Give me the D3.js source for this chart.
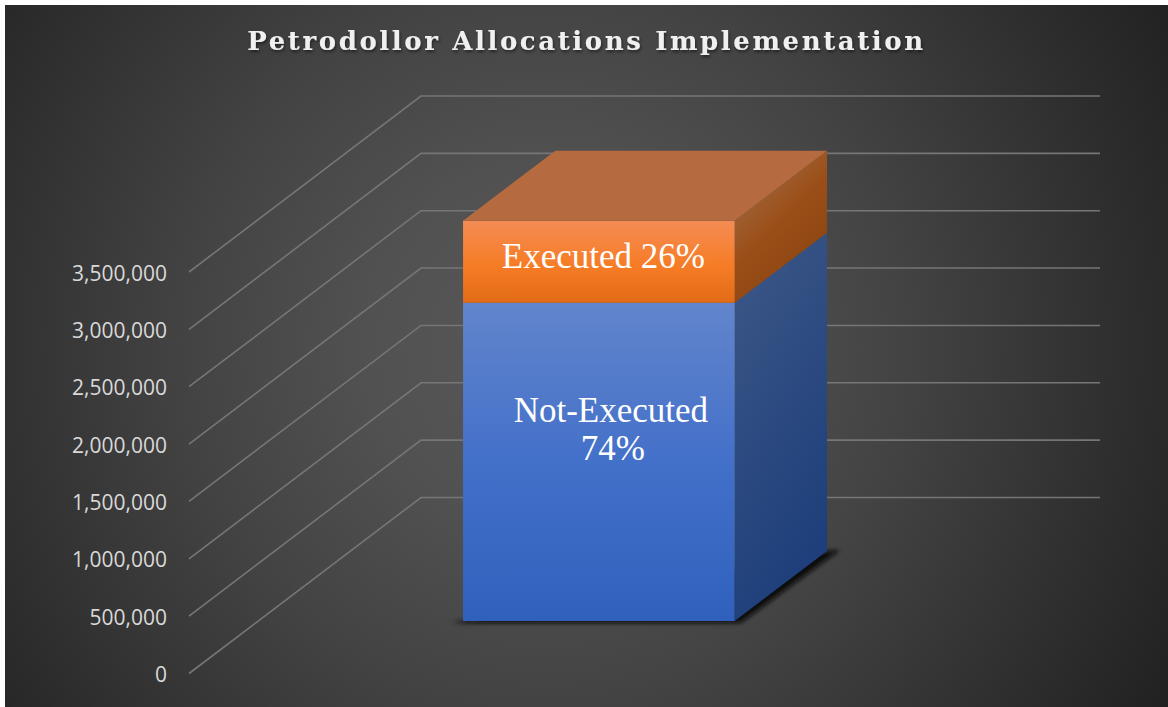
<!DOCTYPE html>
<html><head><meta charset="utf-8">
<script src="https://cdnjs.cloudflare.com/ajax/libs/d3/7.8.5/d3.min.js"></script>
<style>html,body{margin:0;padding:0;background:#fff;overflow:hidden}svg{display:block}</style>
</head><body><svg id="c" width="1168" height="707"></svg>
<script>
const titleText = "Petrodollor Allocations Implementation";
const categories = ["Allocations"];
const seriesNames = ["Not-Executed", "Executed"];
const seriesValues = [2775000, 715000];
const seriesLabels = [["Not-Executed", "74%"], ["Executed 26%"]];
const tickValues = [0, 500000, 1000000, 1500000, 2000000, 2500000, 3000000, 3500000];

const svg = d3.select("#c");
const defs = svg.append("defs");

// scales: value -> height, category -> front-plane x, depth -> oblique offset
const y = d3.scaleLinear().domain([0, 3500000]).range([673.5, 272]);
const x = d3.scaleBand().domain(categories).range([189, 868]).paddingInner(0).paddingOuter(0.75).align(0.503);
const depthX = d3.scaleLinear().domain([0, 1]).range([0, 232]);
const depthY = d3.scaleLinear().domain([0, 1]).range([0, -176]);
const P = (xv, val, d) => [xv + depthX(d), y(val) + depthY(d)];
const line = d3.line();

function lin(id, stops, x1 = 0, y1 = 0, x2 = 0, y2 = 1) {
  const g = defs.append("linearGradient").attr("id", id)
    .attr("x1", x1).attr("y1", y1).attr("x2", x2).attr("y2", y2);
  stops.forEach(([o, c]) => g.append("stop").attr("offset", o).attr("stop-color", c));
}
const bg = defs.append("radialGradient").attr("id", "bg").attr("gradientUnits", "userSpaceOnUse")
  .attr("cx", 545).attr("cy", 345).attr("r", 720);
[[0, "#585858"], [0.25, "#515151"], [0.5, "#434343"], [0.82, "#2d2d2d"], [1, "#212121"]].forEach(([o, c]) =>
  bg.append("stop").attr("offset", o).attr("stop-color", c));
lin("fBlue", [[0, "#6285cc"], [0.5, "#4370c9"], [1, "#2f61bc"]]);
lin("fOrange", [[0, "#f58c54"], [0.55, "#f67c26"], [1, "#e26b16"]]);
lin("sBlue", [[0, "#3e5887"], [1, "#1e3f7b"]], 0, 0, 0.35, 1);
lin("sOrange", [[0, "#a0683f"], [0.2, "#a0683f"], [0.55, "#9b4f18"], [1, "#8a430e"]], 0, 0, 0.6, 1);
defs.append("filter").attr("id", "blur").attr("x", "-10%").attr("y", "-10%").attr("width", "120%").attr("height", "120%")
  .append("feGaussianBlur").attr("stdDeviation", 2.2);
const ts = defs.append("filter").attr("id", "ts");
ts.append("feDropShadow").attr("dx", 1).attr("dy", 2).attr("stdDeviation", 1.5)
  .attr("flood-color", "#000").attr("flood-opacity", 0.5);

svg.append("rect").attr("x", 5).attr("y", 5).attr("width", 1163).attr("height", 702).attr("fill", "url(#bg)");

// title
svg.append("text").attr("x", 586.5).attr("y", 50).attr("text-anchor", "middle")
  .attr("font-family", "'DejaVu Serif',serif").attr("font-weight", 700).attr("font-size", 26)
  .attr("letter-spacing", 2.6).attr("fill", "#f0f0f0").attr("filter", "url(#ts)").text(titleText);

// oblique gridlines
const grid = svg.append("g").attr("fill", "none").attr("stroke", "#767676").attr("stroke-width", 1.6);
tickValues.forEach(t => {
  grid.append("path").attr("d", line([P(x.range()[0], t, 0), P(x.range()[0], t, 1), P(x.range()[1], t, 1)]));
});

// tick labels
svg.append("g").selectAll("text").data(tickValues).join("text")
  .attr("x", 167).attr("y", d => y(d) + 8.5).attr("text-anchor", "end")
  .attr("font-family", "'Open Sans',sans-serif").attr("font-size", 21).attr("fill", "#d9d9d9")
  .text(d => d3.format(",")(d));

// 3D stacked bar
const d0 = 0.298, d1 = 0.696;
const cat = categories[0];
const xl = x(cat), xr = x(cat) + x.bandwidth();
const bar = svg.append("g");

// floor shadow
bar.append("path").attr("fill", "#0c0c0c").attr("filter", "url(#blur)")
  .attr("d", line([
    [P(xl, 0, d0)[0] - 13, P(xl, 0, d0)[1] + 1],
    P(xl, 0, d0),
    P(xr, 0, d1),
    [P(xr, 0, d1)[0] + 13, P(xr, 0, d1)[1] - 1],
    [P(xr, 0, d0)[0] + 6, P(xr, 0, d0)[1] + 2],
    [P(xl, 0, d0)[0], P(xl, 0, d0)[1] + 2]
  ]) + "Z");

let base = 0;
const stacks = seriesValues.map(v => { const s = { lo: base, hi: base + v }; base += v; return s; });
const fills = [["url(#fBlue)", "url(#sBlue)"], ["url(#fOrange)", "url(#sOrange)"]];
stacks.forEach((s, i) => {
  bar.append("path").attr("fill", fills[i][1]).attr("d",
    line([P(xr, s.lo, d0), P(xr, s.lo, d1), P(xr, s.hi, d1), P(xr, s.hi, d0)]) + "Z");
  bar.append("path").attr("fill", fills[i][0]).attr("d",
    line([P(xl, s.lo, d0), P(xr, s.lo, d0), P(xr, s.hi, d0), P(xl, s.hi, d0)]) + "Z");
});
const topS = stacks[stacks.length - 1];
bar.append("path").attr("fill", "#b66a3f").attr("d",
  line([P(xl, topS.hi, d0), P(xr, topS.hi, d0), P(xr, topS.hi, d1), P(xl, topS.hi, d1)]) + "Z");

// data labels
const labelFont = "'Liberation Serif','DejaVu Serif',serif";
const cx = (xl + xr) / 2 + depthX(d0);
const lab = svg.append("g").attr("font-family", labelFont).attr("font-size", 35).attr("fill", "#fff").attr("text-anchor", "middle");
lab.append("text").attr("x", cx + 4.5).attr("y", (y(stacks[1].lo) + y(stacks[1].hi)) / 2 + depthY(d0) + 6).text(seriesLabels[1][0]);
seriesLabels[0].forEach((t, i) => {
  lab.append("text").attr("x", cx + (i ? 14 : 12)).attr("y", 422 + i * 38).text(t);
});
</script></body></html>
